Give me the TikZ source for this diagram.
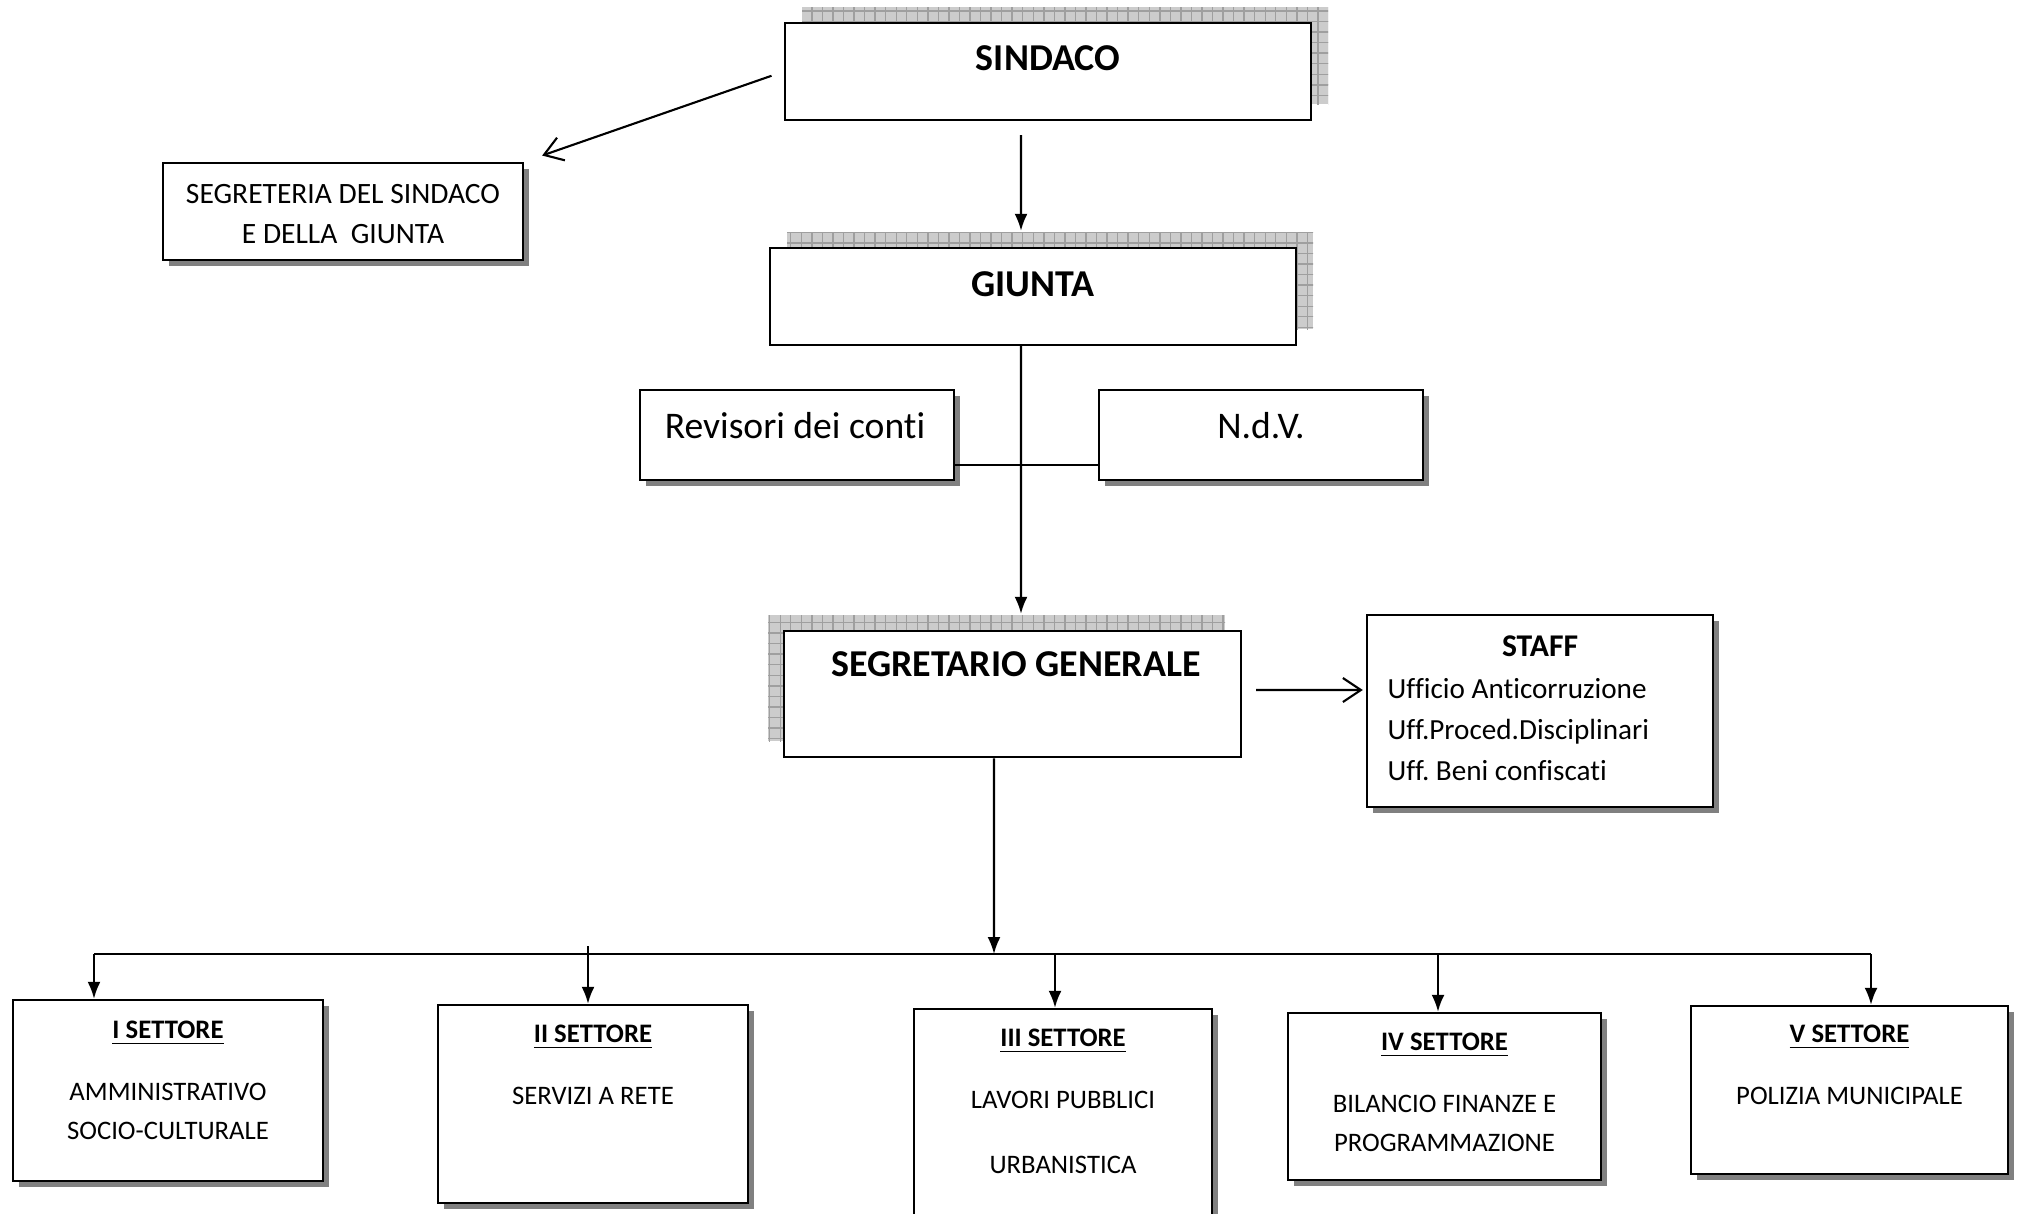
\documentclass[tikz,border=0pt]{standalone}
\usepackage{fontspec}
\setmainfont{Carlito}[Ligatures={NoCommon}]
\usetikzlibrary{arrows.meta,shadows,patterns}
\frenchspacing

\tikzset{
  box/.style={draw, line width=.7pt, fill=white, inner sep=0pt,
    drop shadow={shadow xshift=.6mm, shadow yshift=-.6mm, fill=black!50, opacity=1}},
  hbox/.style={draw, line width=.7pt, fill=white, inner sep=0pt,
    general shadow={shadow xshift=#1, shadow yshift=1.6mm, fill=gray!40},
    general shadow={shadow xshift=#1, shadow yshift=1.6mm, pattern=grid, pattern color=gray!75}},
  arr/.style={-{Latex[length=1.7mm,width=1.3mm]}, line width=.6pt},
  barb/.style={-{Straight Barb[length=1.8mm,width=2.4mm]}, line width=.6pt},
  head/.style={inner sep=0pt, font=\bfseries\fontsize{10.8}{12}\selectfont},
  txt/.style={inner sep=0pt, align=center},
  sett/.style={inner sep=0pt, align=center, anchor=north, font=\fontsize{7.6}{11}\selectfont},
}
\newcommand{\settit}[1]{{\bfseries\fontsize{7.6}{11}\selectfont\underline{#1}}}

\begin{document}
\begin{tikzpicture}[x=0.1mm, y=-0.1mm]
  \useasboundingbox (0,0) rectangle (2018,1213);

  % top of the chart
  \node[hbox=1.7mm, minimum width=52.6mm, minimum height=9.7mm] (sind) at (1048,71.5) {};
  \node[hbox=1.7mm, minimum width=52.6mm, minimum height=9.7mm] (giun) at (1033,296.5) {};
  \node[box, minimum width=36mm, minimum height=9.7mm] (segr) at (343,211.5) {};
  \node[box, minimum width=31.4mm, minimum height=9mm] (rev) at (797,435) {};
  \node[box, minimum width=32.4mm, minimum height=9mm] (ndv) at (1261,435) {};
  \node[hbox=-1.6mm, minimum width=45.7mm, minimum height=12.6mm] (segg) at (1012.5,694) {};
  \node[box, minimum width=34.6mm, minimum height=19.2mm] (staff) at (1540,711) {};

  \node[head] (sind-t) at (1048,58) {SINDACO};
  \node[head] (giun-t) at (1033,284.5) {GIUNTA};
  \node[txt, anchor=north, font=\fontsize{8.4}{11.4}\selectfont] (segr-t) at (343,184)
    {SEGRETERIA DEL SINDACO\\ E DELLA~ GIUNTA};
  \node[txt, font=\fontsize{10.7}{13}\selectfont] (rev-t) at (795,426) {Revisori dei conti};
  \node[txt, font=\fontsize{10.7}{13}\selectfont] (ndv-t) at (1261,426) {N.d.V.};
  \node[head] (segg-t) at (1016,664) {SEGRETARIO GENERALE};
  \node[inner sep=0pt, font=\bfseries\fontsize{9}{11}\selectfont] (staff-t) at (1540,646) {STAFF};
  \node[inner sep=0pt, align=left, anchor=north west, font=\fontsize{8.3}{11.6}\selectfont] (staff-l) at (1387,678)
    {Ufficio Anticorruzione\\ Uff.Proced.Disciplinari\\ Uff. Beni confiscati};

  \draw[barb, shorten <=1.3mm, shorten >=1.9mm] (sind.west) -- (segr.north east);
  \draw[arr] ([xshift=-2.7mm,yshift=-1.4mm]sind.south) -- ([xshift=-1.2mm,yshift=1.6mm]giun.north);
  \draw[arr] ([xshift=-1.2mm]giun.south) -- ([xshift=.85mm,yshift=1.6mm]segg.north);
  \draw[line width=.6pt] ([yshift=-3mm]rev.east) -- ([yshift=-3mm]ndv.west);
  \draw[barb] ([xshift=1.4mm,yshift=.4mm]segg.east) -- ([xshift=-.3mm,yshift=2.1mm]staff.west);

  % settori
  \node[box, minimum width=31mm, minimum height=18.1mm] (set1) at (168,1090.5) {};
  \node[box, minimum width=31mm, minimum height=19.8mm] (set2) at (593,1104) {};
  \node[box, minimum width=29.8mm, minimum height=24.1mm] (set3) at (1063,1129.5) {};
  \node[box, minimum width=31.3mm, minimum height=16.7mm] (set4) at (1444.5,1096.5) {};
  \node[box, minimum width=31.7mm, minimum height=16.8mm] (set5) at (1849.5,1090) {};

  \node[sett] (set1-t) at (168,1020) {\settit{I SETTORE}\\[6.8pt] AMMINISTRATIVO\\ SOCIO-CULTURALE};
  \node[sett] (set2-t) at (593,1024) {\settit{II SETTORE}\\[6.8pt] SERVIZI A RETE};
  \node[sett] (set3-t) at (1063,1028) {\settit{III SETTORE}\\[6.8pt] LAVORI PUBBLICI\\[7.5pt] URBANISTICA};
  \node[sett] (set4-t) at (1444.5,1032) {\settit{IV SETTORE}\\[6.8pt] BILANCIO FINANZE E\\ PROGRAMMAZIONE};
  \node[sett] (set5-t) at (1849.5,1024) {\settit{V SETTORE}\\[6.8pt] POLIZIA MUNICIPALE};

  \coordinate (bus) at (994,954);
  \coordinate (b1) at (94,954);
  \coordinate (b2) at (588,946);
  \coordinate (b3) at (1055,954);
  \coordinate (b4) at (1438,954);
  \coordinate (b5) at (1871,954);
  \draw[arr] ([xshift=-1.85mm]segg.south) -- (bus);
  \draw[line width=.6pt] (b1) -- (b5);
  \foreach \i in {1,...,5}
    \draw[arr] (b\i) -- (b\i |- set\i.north);
\end{tikzpicture}
\end{document}
